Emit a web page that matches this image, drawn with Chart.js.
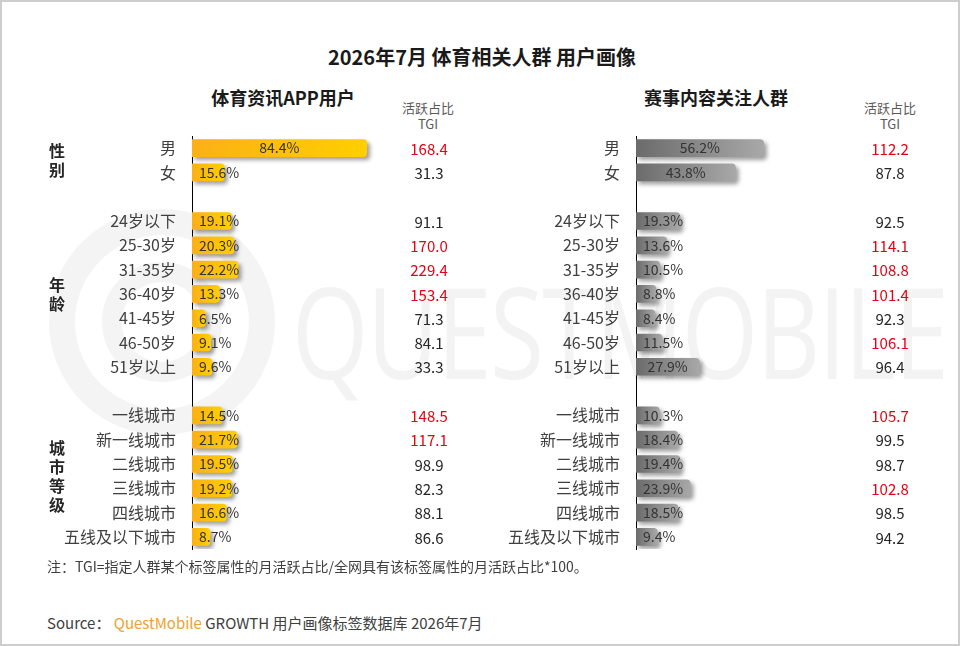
<!DOCTYPE html>
<html>
<head>
<meta charset="utf-8">
<script src="https://cdn.jsdelivr.net/npm/chart.js@4.4.1/dist/chart.umd.min.js"></script>
<style>
  html, body { margin: 0; padding: 0; background: #fff; }
  body { width: 960px; height: 646px; overflow: hidden; font-family: "Microsoft YaHei", "Noto Sans CJK SC", sans-serif; }
  #frame { position: relative; width: 960px; height: 646px; box-sizing: border-box; border: 2px solid #cdcdcd; }
  .abs { position: absolute; white-space: nowrap; }
  .title { left: 0; width: 960px; top: 40px; text-align: center; font-size: 20px; font-weight: bold; color: #1a1a1a; }
  .sub { top: 82px; font-size: 18px; font-weight: bold; color: #1a1a1a; transform: translateX(-50%); }
  .hdr { font-size: 13px; color: #595959; text-align: center; line-height: 16px; transform: translateX(-50%); top: 98px; }
  .group { left: 47px; font-size: 16px; font-weight: bold; color: #262626; line-height: 19px; width: 18px; white-space: normal; }
  .note { left: 45px; top: 554px; font-size: 14px; color: #404040; }
  .source { left: 45px; top: 610px; font-size: 15px; color: #404040; }
  .source .qm { color: #f0a132; }
  canvas { position: absolute; }
  #wm { position: absolute; left: 0; top: 0; }
  .wmtext { left: 290px; top: 258px; font-family: "Open Sans", "DejaVu Sans", sans-serif; font-size: 126px; line-height: 140px; color: #f3f3f3; letter-spacing: -2px; transform: scaleX(0.78); transform-origin: left top; }
</style>
</head>
<body>
<div id="frame">
  <svg id="wm" width="960" height="646">
    <circle cx="160" cy="320" r="100" fill="none" stroke="#f4f4f4" stroke-width="26"/>
    <circle cx="160" cy="320" r="50" fill="none" stroke="#f4f4f4" stroke-width="20"/>
  </svg>
  <div class="abs wmtext">QUESTMOBILE</div>

  <div class="abs title">2026年7月 体育相关人群 用户画像</div>
  <div class="abs sub" style="left:281px">体育资讯APP用户</div>
  <div class="abs sub" style="left:714px">赛事内容关注人群</div>
  <div class="abs hdr" style="left:426px">活跃占比<br>TGI</div>
  <div class="abs hdr" style="left:888px">活跃占比<br>TGI</div>

  <canvas id="appChart" width="440" height="442" style="left:30px; top:118px"></canvas>
  <canvas id="eventChart" width="460" height="442" style="left:480px; top:118px"></canvas>

  <div class="abs note">注：TGI=指定人群某个标签属性的月活跃占比/全网具有该标签属性的月活跃占比*100。</div>
  <div class="abs source">Source：&nbsp;<span class="qm">QuestMobile</span> GROWTH 用户画像标签数据库 2026年7月</div>
</div>

<script>
// categories (blank rows separate the groups)
const categories = ['男', '女', ' ', '24岁以下', '25-30岁', '31-35岁', '36-40岁', '41-45岁', '46-50岁', '51岁以上',
  '  ', '一线城市', '新一线城市', '二线城市', '三线城市', '四线城市', '五线及以下城市'];

// group names and the rows they cover
const groupNames = ['性别', '年龄', '城市等级'];
const groupRows = [[0, 1], [3, 9], [11, 16]];

// 体育资讯APP用户
const appShare = [84.4, 15.6, null, 19.1, 20.3, 22.2, 13.3, 6.5, 9.1, 9.6, null, 14.5, 21.7, 19.5, 19.2, 16.6, 8.7];
const appTgi = [168.4, 31.3, null, 91.1, 170.0, 229.4, 153.4, 71.3, 84.1, 33.3, null, 148.5, 117.1, 98.9, 82.3, 88.1, 86.6];

// 赛事内容关注人群
const eventShare = [56.2, 43.8, null, 19.3, 13.6, 10.5, 8.8, 8.4, 11.5, 27.9, null, 10.3, 18.4, 19.4, 23.9, 18.5, 9.4];
const eventTgi = [112.2, 87.8, null, 92.5, 114.1, 108.8, 101.4, 92.3, 106.1, 96.4, null, 105.7, 99.5, 98.7, 102.8, 98.5, 94.2];

const FONT = '"Microsoft YaHei", "Noto Sans CJK SC", sans-serif';

// soft drop shadow under the bars
const shadowPlugin = {
  id: 'barShadow',
  beforeDatasetDraw(chart) {
    const ctx = chart.ctx;
    ctx.save();
    ctx.shadowColor = 'rgba(0,0,0,0.38)';
    ctx.shadowBlur = 4;
    ctx.shadowOffsetX = 3;
    ctx.shadowOffsetY = 3;
  },
  afterDatasetDraw(chart) {
    chart.ctx.restore();
  }
};

// percentage labels on the bars + TGI column
const labelPlugin = {
  id: 'valueLabels',
  afterDatasetsDraw(chart, args, opts) {
    const ctx = chart.ctx;
    const xs = chart.scales.x;
    const ys = chart.scales.y;
    const values = chart.data.datasets[0].data;
    ctx.save();
    ctx.textBaseline = 'middle';
    ctx.font = '14px ' + FONT;
    values.forEach(function(v, i) {
      if (v == null) return;
      const x0 = xs.getPixelForValue(0);
      const x1 = xs.getPixelForValue(v);
      const yy = ys.getPixelForValue(i);
      const text = v.toFixed(1) + '%';
      const w = ctx.measureText(text).width;
      ctx.fillStyle = '#333333';
      if (w + 12 < x1 - x0) {
        ctx.textAlign = 'center';
        ctx.fillText(text, (x0 + x1) / 2, yy);
      } else {
        ctx.textAlign = 'left';
        ctx.fillText(text, x0 + 7, yy);
      }
    });
    ctx.font = '15px ' + FONT;
    ctx.textAlign = 'center';
    opts.tgi.forEach(function(t, i) {
      if (t == null) return;
      ctx.fillStyle = t > 100 ? '#e60012' : '#262626';
      ctx.fillText(t.toFixed(1), chart.chartArea.right + opts.tgiOffset, ys.getPixelForValue(i) + 1);
    });
    ctx.restore();
  }
};

function barGradient(from, to) {
  return function(c) {
    const chart = c.chart;
    if (!chart.chartArea || c.raw == null) return from;
    const x0 = chart.scales.x.getPixelForValue(0);
    const x1 = chart.scales.x.getPixelForValue(c.raw);
    const g = chart.ctx.createLinearGradient(x0, 0, x1, 0);
    g.addColorStop(0, from);
    g.addColorStop(1, to);
    return g;
  };
}

function makeChart(id, share, tgi, colors, axisWidth, padRight, tgiOffset) {
  return new Chart(document.getElementById(id), {
    type: 'bar',
    data: {
      labels: categories,
      datasets: [{
        data: share,
        backgroundColor: barGradient(colors[0], colors[1]),
        borderRadius: { topLeft: 0, bottomLeft: 0, topRight: 4, bottomRight: 4 },
        borderSkipped: false,
        barThickness: 17
      }]
    },
    options: {
      indexAxis: 'y',
      responsive: false,
      animation: false,
      layout: { padding: { top: 16, bottom: 13, left: 0, right: padRight } },
      plugins: {
        legend: { display: false },
        tooltip: { enabled: false },
        valueLabels: { tgi: tgi, tgiOffset: tgiOffset }
      },
      scales: {
        x: { display: false, min: 0, max: 100 },
        y: {
          // invisible tick marks keep the gap between labels and the axis line
          grid: { display: false, drawTicks: true, tickLength: 16 },
          border: { display: true, color: '#000000', width: 1 },
          ticks: { color: '#404040', font: { size: 16, family: FONT }, padding: 0 },
          afterFit: function(scale) { scale.width = axisWidth; }
        }
      }
    },
    plugins: [shadowPlugin, labelPlugin]
  });
}

const appChart = makeChart('appChart', appShare, appTgi, ['#FBB017', '#FFCF00'], 160, 73, 30);
const eventChart = makeChart('eventChart', eventShare, eventTgi, ['#6B6B6B', '#A8A8A8'], 154, 79, 27);

// group labels placed next to their rows
const frame = document.getElementById('frame');
groupNames.forEach(function(name, g) {
  const ys = appChart.scales.y;
  const mid = (ys.getPixelForValue(groupRows[g][0]) + ys.getPixelForValue(groupRows[g][1])) / 2 + 118;
  const el = document.createElement('div');
  el.className = 'abs group';
  el.textContent = name;
  frame.appendChild(el);
  el.style.top = (mid - el.offsetHeight / 2) + 'px';
});
</script>
</body>
</html>
